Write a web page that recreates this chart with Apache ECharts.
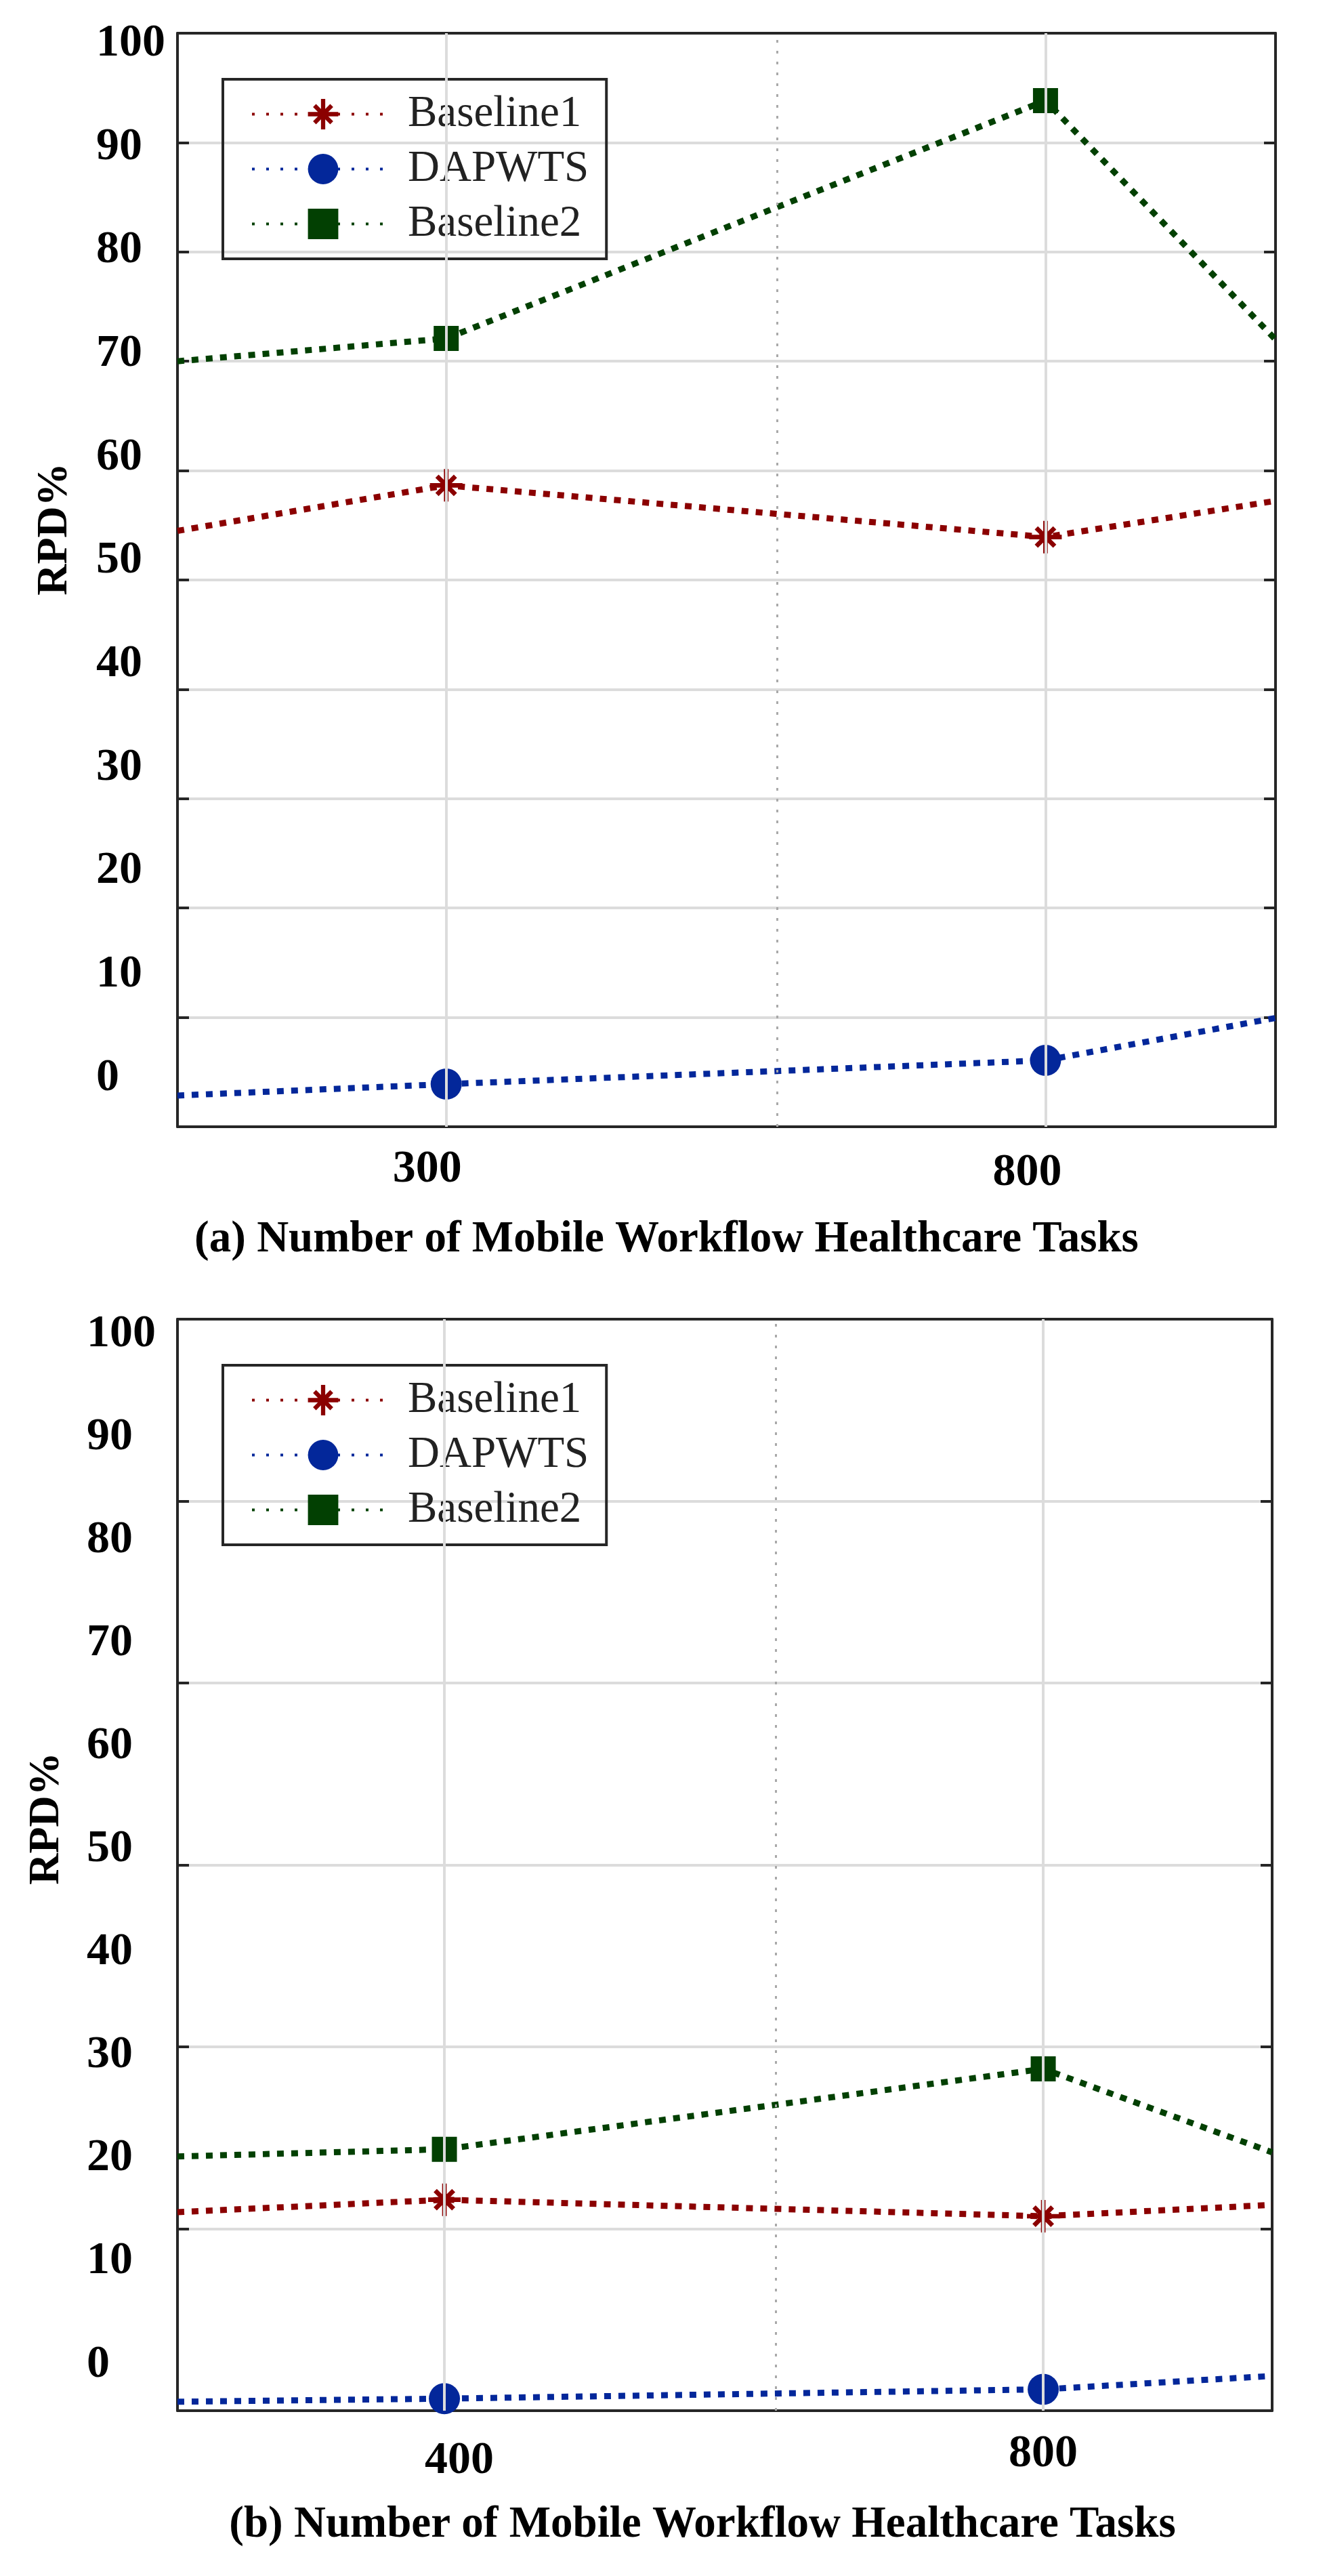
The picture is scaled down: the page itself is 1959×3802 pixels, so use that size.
<!DOCTYPE html>
<html>
<head>
<meta charset="utf-8">
<script src="https://cdn.jsdelivr.net/npm/echarts@6/dist/echarts.min.js"></script>
<style>
  html, body { margin: 0; padding: 0; background: #ffffff; }
  #chart { width: 1959px; height: 3802px; }
</style>
</head>
<body>
<div id="chart"></div>
<script>
// ---------------- DATA ----------------
const seriesNames = ['Baseline1', 'DAPWTS', 'Baseline2'];
const yTickLabels = [0, 10, 20, 30, 40, 50, 60, 70, 80, 90, 100];

// Panel (a)
const xTicksA = [300, 800];
const xA = [75.8, 300, 800, 991.9];
const xMidA = 576.2;
const xRangeA = [75.8, 991.9];
const yRangeA = [-4.72, 101.02];
const gridDivA = 10;
const baseline1A = [52.9, 57.3, 52.3, 55.8];
const dapwtsA = [-1.7, -0.6, 1.7, 5.8];
const baseline2A = [69.3, 71.5, 94.5, 71.4];
const captionA = '(a) Number of Mobile Workflow Healthcare Tasks';

// Panel (b)
const xTicksB = [400, 800];
const xB = [221.7, 400, 800, 952.9];
const xMidB = 621.3;
const xRangeB = [221.7, 952.9];
const yRangeB = [-4.47, 101.45];
const gridDivB = 6;
const baseline1B = [14.8, 16.0, 14.4, 15.5];
const dapwtsB = [-3.6, -3.3, -2.4, -1.1];
const baseline2B = [20.2, 20.9, 28.7, 20.6];
const captionB = '(b) Number of Mobile Workflow Healthcare Tasks';

const yTitle = 'RPD%';

// ---------------- STYLE ----------------
const SERIF = 'Liberation Serif';
const BORDER = '#262626';
const GRIDC = '#dcdcdc';
const colors = ['#8B0000', '#03279A', '#024002'];
const asterisk = 'path://M-1.4,-10L1.4,-10L1.4,10L-1.4,10Z M-10,-1.4L10,-1.4L10,1.4L-10,1.4Z M-6.65,-4.67L-4.67,-6.65L6.65,4.67L4.67,6.65Z M4.67,-6.65L6.65,-4.67L-4.67,6.65L-6.65,4.67Z';
const symbols = [asterisk, 'circle', 'rect'];
const symbolSizes = [48, 46, 37];

const panels = [
  { xs: xA, ticks: xTicksA, mid: xMidA, xr: xRangeA, yr: yRangeA, div: gridDivA,
    vals: [baseline1A, dapwtsA, baseline2A], caption: captionA,
    grid: { left: 262, top: 49, width: 1621, height: 1614 },
    labelMargin: 120, xLabelMargin: 29,
    rich: { t300: { padding: [0, 56, 0, 0] }, t800: { padding: [11, 54, 0, 0] } },
    captionGap: 135, captionPad: [0, 177, 0, 0],
    legendTop: 117, title: { x: 81, y: 781 } },
  { xs: xB, ticks: xTicksB, mid: xMidB, xr: xRangeB, yr: yRangeB, div: gridDivB,
    vals: [baseline1B, dapwtsB, baseline2B], caption: captionB,
    grid: { left: 262, top: 1947, width: 1616, height: 1611 },
    labelMargin: 134, xLabelMargin: 30,
    rich: { t400: { padding: [20, 0, 0, 44] }, t800: { padding: [0, 0, 0, 0] } },
    captionGap: 137, captionPad: [0, 66, 0, 0],
    legendTop: 2015, title: { x: 69, y: 2684 } }
];

const option = {
  backgroundColor: '#ffffff',
  animation: false,
  textStyle: { fontFamily: SERIF },
  grid: [], xAxis: [], yAxis: [], series: [], legend: [], graphic: []
};

panels.forEach((p, gi) => {
  option.grid.push(Object.assign({ containLabel: false }, p.grid));
  const xb = option.xAxis.length;
  const yb = option.yAxis.length;
  const richStyles = {};
  Object.keys(p.rich).forEach(k => {
    richStyles[k] = Object.assign({ fontFamily: SERIF, fontWeight: 'bold', fontSize: 68, lineHeight: 68, color: '#000' }, p.rich[k]);
  });
  // bottom x axis
  option.xAxis.push({
    type: 'value', gridIndex: gi, position: 'bottom', min: p.xr[0], max: p.xr[1],
    axisLine: { show: true, onZero: false, lineStyle: { color: BORDER, width: 4 } },
    axisTick: { show: true, inside: true, length: 15, customValues: p.ticks, lineStyle: { color: BORDER, width: 4 } },
    axisLabel: { show: true, customValues: p.ticks, margin: p.xLabelMargin,
      formatter: v => '{t' + v + '|' + v + '}', rich: richStyles,
      fontFamily: SERIF, fontWeight: 'bold', fontSize: 68, color: '#000' },
    splitLine: { show: false },
    name: p.caption, nameLocation: 'middle', nameGap: p.captionGap,
    nameTextStyle: { fontFamily: SERIF, fontWeight: 'bold', fontSize: 65, color: '#000', padding: p.captionPad, lineHeight: 65 }
  });
  // top x axis (border + ticks)
  option.xAxis.push({
    type: 'value', gridIndex: gi, position: 'top', min: p.xr[0], max: p.xr[1],
    axisLine: { show: true, onZero: false, lineStyle: { color: BORDER, width: 4 } },
    axisTick: { show: true, inside: true, length: 15, customValues: p.ticks, lineStyle: { color: BORDER, width: 4 } },
    axisLabel: { show: false }, splitLine: { show: false }
  });
  // label y axis
  option.yAxis.push({
    type: 'value', gridIndex: gi, position: 'left', min: p.yr[0], max: p.yr[1], splitNumber: 10,
    axisLine: { show: true, onZero: false, lineStyle: { color: BORDER, width: 4 } },
    axisTick: { show: false },
    axisLabel: { show: true, customValues: yTickLabels, align: 'left', margin: p.labelMargin,
      formatter: v => (Math.abs(v - Math.round(v / 10) * 10) < 1e-6 ? String(Math.round(v)) : ''),
      fontFamily: SERIF, fontWeight: 'bold', fontSize: 68, color: '#000' },
    splitLine: { show: false }
  });
  // grid-line y axis (left ticks)
  option.yAxis.push({
    type: 'value', gridIndex: gi, position: 'left', min: 0, max: p.div, interval: 1,
    axisLine: { show: false },
    axisTick: { show: true, inside: true, length: 17, lineStyle: { color: BORDER, width: 4 } },
    axisLabel: { show: false },
    splitLine: { show: true, lineStyle: { color: GRIDC, width: 4 } }
  });
  // right border y axis
  option.yAxis.push({
    type: 'value', gridIndex: gi, position: 'right', min: 0, max: p.div, interval: 1,
    axisLine: { show: true, onZero: false, lineStyle: { color: BORDER, width: 4 } },
    axisTick: { show: true, inside: true, length: 17, lineStyle: { color: BORDER, width: 4 } },
    axisLabel: { show: false }, splitLine: { show: false }
  });

  // vertical grid lines
  option.series.push({
    type: 'line', name: 'grid' + gi, xAxisIndex: xb, yAxisIndex: yb, data: [], z: 1, silent: true,
    markLine: {
      silent: true, symbol: ['none', 'none'], label: { show: false }, animation: false,
      data: p.ticks.map(t => ({ xAxis: t, lineStyle: { color: GRIDC, width: 4, type: 'solid' } }))
        .concat([{ xAxis: p.mid, lineStyle: { color: '#a9a9a9', width: 3, type: [4, 12] } }])
    }
  });

  seriesNames.forEach((nm, si) => {
    option.series.push({
      type: 'line', name: nm, xAxisIndex: xb, yAxisIndex: yb, z: 3,
      symbol: symbols[si], symbolSize: symbolSizes[si],
      itemStyle: { color: colors[si], borderWidth: 0 },
      lineStyle: { color: colors[si], width: 9, type: [10, 11], cap: 'butt' },
      data: p.xs.map((x, i) => {
        const d = { value: [x, p.vals[si][i]] };
        if (p.ticks.indexOf(x) < 0) d.symbol = 'none';
        return d;
      })
    });
  });

  option.legend.push({
    data: seriesNames, orient: 'vertical', left: 329, top: p.legendTop,
    padding: [19, 26, 19, 41], itemGap: 16, itemWidth: 210, itemHeight: 56,
    borderColor: BORDER, borderWidth: 4, backgroundColor: 'transparent',
    lineStyle: { width: 4, type: [4, 17] },
    formatter: '{n|{name}}',
    textStyle: { fontFamily: SERIF, fontSize: 65, color: '#222', padding: [0, 0, 0, 15],
      rich: { n: { fontFamily: SERIF, fontSize: 65, fontWeight: 'normal', color: '#222', lineHeight: 65 } } },
    selectedMode: false
  });

  option.graphic.push({
    type: 'text', x: p.title.x, y: p.title.y, rotation: Math.PI / 2,
    style: { text: yTitle, fontFamily: SERIF, fontWeight: 'bold', fontSize: 64, fill: '#000',
      align: 'center', verticalAlign: 'middle' }
  });
});

const chart = echarts.init(document.getElementById('chart'), null, { renderer: 'canvas' });
chart.setOption(option);
</script>
</body>
</html>
